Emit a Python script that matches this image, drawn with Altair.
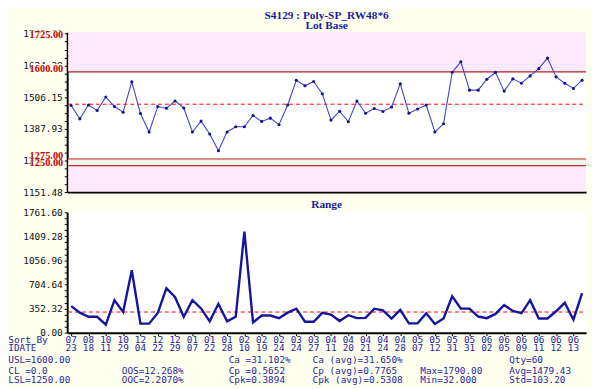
import altair as alt
import pandas as pd

# ---------------- data ----------------
xbar = [1474.4, 1424.9, 1476.6, 1455.9, 1506.2, 1470.7, 1449.6, 1563.0, 1444.8, 1375.8,
        1470.7, 1464.4, 1491.4, 1465.5, 1375.8, 1416.4, 1368.4, 1305.6, 1375.8, 1395.3,
        1395.3, 1437.5, 1415.3, 1427.5, 1402.7, 1476.6, 1569.0, 1548.3, 1564.1, 1518.7,
        1420.1, 1453.3, 1413.8, 1491.4, 1445.9, 1463.3, 1452.2, 1469.2, 1555.6, 1445.9,
        1461.8, 1476.6, 1375.8, 1406.4, 1598.5, 1638.0, 1532.0, 1532.0, 1572.6, 1598.5,
        1528.3, 1574.1, 1557.9, 1585.2, 1612.2, 1651.7, 1581.5, 1557.9, 1538.3, 1569.0]
ranges = [389, 293, 232, 232, 117, 475, 303, 914, 132, 132,
          289, 652, 518, 232, 475, 355, 165, 422, 165, 232,
          1478, 150, 251, 251, 212, 293, 351, 160, 160, 289,
          265, 170, 255, 212, 216, 351, 327, 207, 332, 136,
          136, 284, 126, 207, 532, 351, 351, 236, 212, 274,
          404, 318, 284, 475, 207, 207, 313, 437, 189, 580]
months = ["07", "08", "10", "10", "12", "12", "12", "01", "01", "01",
          "02", "02", "02", "03", "03", "04", "04", "04", "04", "04",
          "05", "05", "05", "05", "06", "06", "06", "06", "06", "06"]
days = ["23", "18", "11", "29", "04", "22", "29", "07", "22", "28",
        "10", "19", "24", "24", "27", "11", "20", "21", "24", "28",
        "07", "12", "31", "31", "02", "05", "09", "11", "12", "13"]
spec_values = [1725.0, 1600.0, 1275.0, 1250.0]
spec_labels = ["1725.00", "1600.00", "1275.00", "1250.00"]
cl_top = 1479.43
cl_range = 302.0
top_ticks = [1151.48, 1269.70, 1387.93, 1506.15, 1624.38, 1742.60]
range_ticks = [0.00, 352.32, 704.64, 1056.96, 1409.28, 1761.60]

stats = [
    ("USL=1600.00", -59.7, 0), ("CL =0.0", -59.7, 1), ("LSL=1250.00", -59.7, 2),
    ("OOS=12.268%", 55.3, 1), ("OOC=2.2070%", 55.3, 2),
    ("Ca =31.102%", 163.7, 0), ("Cp =0.5652", 163.7, 1), ("Cpk=0.3894", 163.7, 2),
    ("Ca (avg)=31.650%", 248.7, 0), ("Cp (avg)=0.7765", 248.7, 1), ("Cpk (avg)=0.5308", 248.7, 2),
    ("Max=1790.00", 358.0, 1), ("Min=32.000", 358.0, 2),
    ("Qty=60", 448.0, 0), ("Avg=1479.43", 448.0, 1), ("Std=103.20", 448.0, 2),
]

# ---------------- style ----------------
CREAM = "#FFFFEF"
PINK = "#FCE9FC"
GREEN = "#EAF7EA"
BLUE_TXT = "#2626A6"
TITLE_BLUE = "#1A1AA0"
W, H1, H2 = 526, 162, 122
MONO = "DejaVu Sans Mono"
SERIF = "Liberation Serif"

n = len(xbar)
df = pd.DataFrame({"i": list(range(n)), "xbar": xbar, "range": ranges})
lab_df = pd.DataFrame({"i": list(range(0, n, 2)), "m": months, "d": days})
spec_df = pd.DataFrame({"v": spec_values, "t": spec_labels})
one = pd.DataFrame({"a": [0]})

xs = alt.Scale(domain=[-0.46, 59.46], nice=False, zero=False)
ys1 = alt.Scale(domain=[1151.48, 1748.0], nice=False, zero=False)
ys2 = alt.Scale(domain=[0, 1761.6], nice=False, zero=False)


def with_minor(major):
    vals = []
    for a, b in zip(major[:-1], major[1:]):
        for k in range(4):
            vals.append(a + (b - a) * k / 4)
    vals.append(major[-1])
    return vals


def label_expr(major):
    arr = ",".join("'%.2f'" % v for v in major)
    return "indexof([%s], format(datum.value, '.2f')) >= 0 ? format(datum.value, '.2f') : ''" % arr


def yaxis(major):
    return alt.Axis(values=with_minor(major), labelExpr=label_expr(major), tickSize=3,
                    tickColor="black", domainColor="black", domainWidth=2, grid=False,
                    labelFont=MONO, labelFontSize=9.5, labelColor="#111111", labelPadding=2,
                    zindex=0)


ax1 = yaxis(top_ticks)
ax2 = yaxis(range_ticks)
xaxis_top = alt.Axis(labels=False, ticks=False, domainColor="black", domainWidth=2, grid=False, zindex=0)
xaxis_bot = alt.Axis(labels=False, values=list(range(0, n, 2)), tickSize=3, tickColor="black",
                     domainColor="black", domainWidth=2, grid=False, zindex=0)


def X1(field="i"):
    return alt.X(field, type="quantitative", scale=xs, axis=xaxis_top, title=None)


def X2(field="i"):
    return alt.X(field, type="quantitative", scale=xs, axis=xaxis_bot, title=None)


def Y1(field):
    return alt.Y(field, type="quantitative", scale=ys1, axis=ax1, title=None)


def Y2(field):
    return alt.Y(field, type="quantitative", scale=ys2, axis=ax2, title=None)


# ---------------- top chart ----------------
bounds1 = alt.Chart(one).mark_rect(opacity=0).encode(
    x=alt.value(-60), x2=alt.value(532), y=alt.value(-22), y2=alt.value(H1))

band_df = pd.DataFrame({"y0": [1600.0, 1250.0, 1154.0], "y1": [1748.0, 1275.0, 1250.0],
                        "c": [PINK, GREEN, PINK]})
bands = alt.Chart(band_df).mark_rect().encode(
    x=alt.value(1), x2=alt.value(W), y=Y1("y0"), y2="y1", color=alt.Color("c:N", scale=None))

line_styles = {1600.0: ("#B22222", 1.2), 1275.0: ("#D86A6A", 1.6), 1250.0: ("#C03030", 1.2)}
rules = []
for v, (col, w) in line_styles.items():
    rules.append(alt.Chart(pd.DataFrame({"v": [v]})).mark_rule(color=col, strokeWidth=w).encode(
        y=Y1("v"), x=alt.value(1), x2=alt.value(W)))

cl1 = alt.Chart(pd.DataFrame({"v": [cl_top]})).mark_rule(
    color="#FF0000", strokeWidth=1, strokeDash=[4, 3]).encode(y=Y1("v"), x=alt.value(1), x2=alt.value(W))

line1 = alt.Chart(df).mark_line(color="#4444CC", strokeWidth=1.1).encode(x=X1(), y=Y1("xbar"))
pts1 = alt.Chart(df).mark_point(filled=True, color="#12128C", size=10, opacity=1).encode(x=X1(), y=Y1("xbar"))

# cream boxes behind the spec-limit labels (hide the tick labels underneath, as in the original)
label_bg = alt.Chart(spec_df).mark_rect(color=CREAM, yOffset=-8, y2Offset=1).encode(
    x=alt.value(-37), x2=alt.value(-3), y=Y1("v"), y2=alt.Y2("v"))
spec_txt = alt.Chart(spec_df).mark_text(
    align="right", baseline="alphabetic", font=SERIF, fontSize=10.5, fontWeight="bold",
    color="#C00000").encode(x=alt.value(-4), y=Y1("v"), text="t:N")

title1 = alt.Chart(one).mark_text(
    font=SERIF, fontSize=11.5, fontWeight="bold", color=TITLE_BLUE, baseline="middle").encode(
    x=alt.value(W / 2), y=alt.value(-16), text=alt.value("S4129 : Poly-SP_RW48*6"))
title2 = alt.Chart(one).mark_text(
    font=SERIF, fontSize=11.5, fontWeight="bold", color=TITLE_BLUE, baseline="middle").encode(
    x=alt.value(W / 2), y=alt.value(-6), text=alt.value("Lot Base"))

top = alt.layer(bounds1, bands, *rules, cl1, line1, pts1, label_bg, spec_txt, title1, title2).properties(
    width=W, height=H1)

# ---------------- range chart ----------------
cl2 = alt.Chart(pd.DataFrame({"v": [cl_range]})).mark_rule(
    color="#FF0000", strokeWidth=1, strokeDash=[4, 3]).encode(y=Y2("v"), x=alt.value(1), x2=alt.value(W))
line2 = alt.Chart(df).mark_line(color="#14149C", strokeWidth=2.4).encode(x=X2(), y=Y2("range"))

rtitle = alt.Chart(one).mark_text(
    font=SERIF, fontSize=11.5, fontWeight="bold", color=TITLE_BLUE, baseline="middle").encode(
    x=alt.value(W / 2), y=alt.value(-7.5), text=alt.value("Range"))

mon_txt = alt.Chart(lab_df).mark_text(font=MONO, fontSize=9.5, color=BLUE_TXT, baseline="middle").encode(
    x=X2(), y=alt.value(H2 + 7), text="m:N")
day_txt = alt.Chart(lab_df).mark_text(font=MONO, fontSize=9.5, color=BLUE_TXT, baseline="middle").encode(
    x=X2(), y=alt.value(H2 + 16), text="d:N")

row_y = [H2 + 28.2, H2 + 38.8, H2 + 47.8]
hdr_df = pd.DataFrame({"t": ["Sort By", "IDATE"], "px": [-59.7, -59.7], "py": [H2 + 7, H2 + 16]})
st_df = pd.DataFrame({"t": [s[0] for s in stats], "px": [s[1] for s in stats],
                      "py": [row_y[s[2]] for s in stats]})
hdr = alt.Chart(hdr_df).mark_text(font=MONO, fontSize=9.5, color=BLUE_TXT, align="left", baseline="middle").encode(
    x=alt.X("px:Q", scale=None), y=alt.Y("py:Q", scale=None), text="t:N")
st_txt = alt.Chart(st_df).mark_text(font=MONO, fontSize=9.5, color=BLUE_TXT, align="left", baseline="middle").encode(
    x=alt.X("px:Q", scale=None), y=alt.Y("py:Q", scale=None), text="t:N")

bottom = alt.layer(cl2, line2, rtitle, mon_txt, day_txt, hdr, st_txt).properties(width=W, height=H2)

chart = alt.vconcat(top, bottom, spacing=20.5, bounds="flush").properties(
    padding=0, background=CREAM).configure_view(fill="white", strokeWidth=0)

chart.save("out.html", embed_options={"renderer": "svg", "actions": False})
